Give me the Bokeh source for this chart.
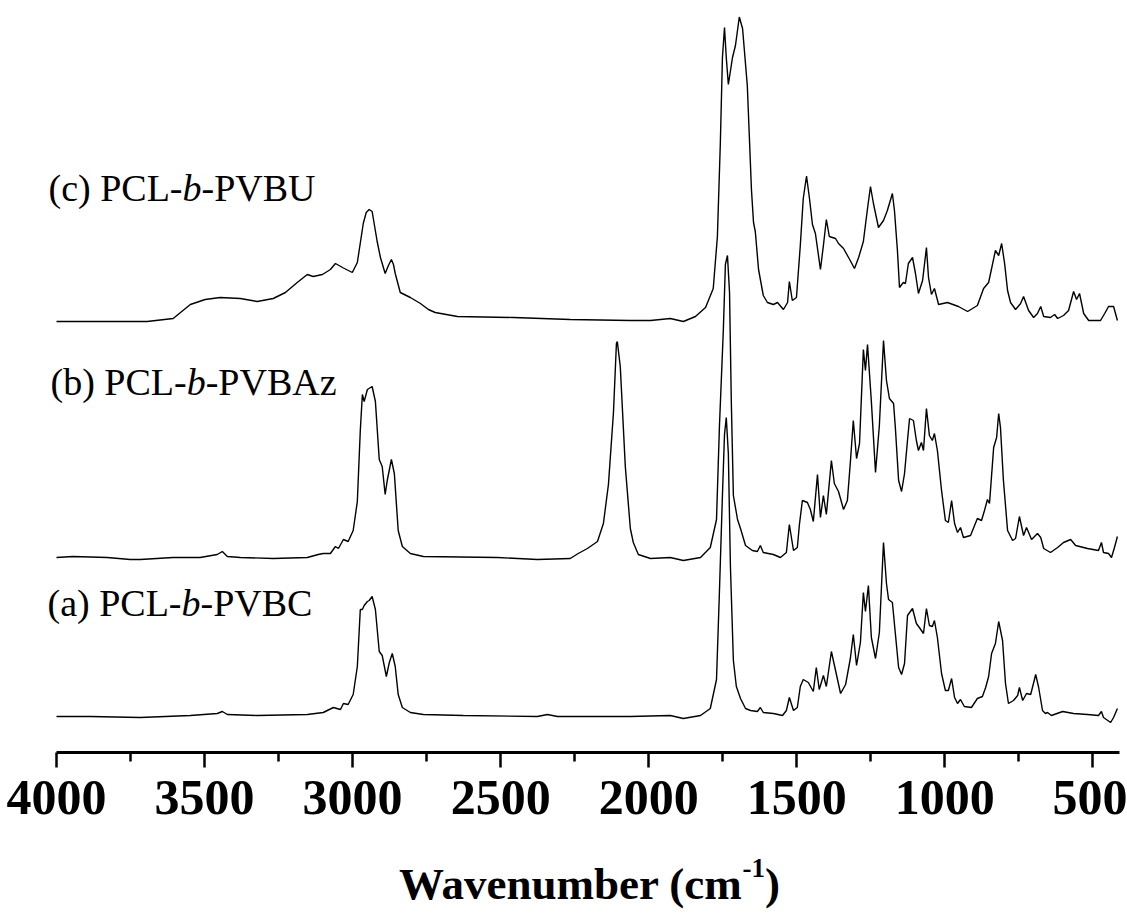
from bokeh.plotting import figure
from bokeh.models import Range1d, FixedTicker, Label, LinearAxis
from bokeh.layouts import column
from bokeh.embed import file_html
from bokeh.resources import INLINE

# ---------------- data ----------------
# (a) PCL-b-PVBC
wn_a = [4000, 3886, 3717, 3548, 3457, 3440, 3423, 3322, 3153, 3099, 3065, 3041, 3031, 3015, 2998, 2984, 2974,
        2967, 2961, 2950, 2944, 2934, 2923, 2910, 2900, 2886, 2876, 2866, 2856, 2846, 2832, 2805, 2761, 2626,
        2376, 2342, 2308, 2062, 1927, 1883, 1825, 1792, 1771, 1761, 1751, 1744, 1738, 1731, 1724, 1714, 1704,
        1690, 1673, 1656, 1633, 1623, 1613, 1579, 1548, 1535, 1525, 1511, 1498, 1488, 1478, 1461, 1444, 1434,
        1424, 1410, 1400, 1383, 1369, 1352, 1335, 1319, 1309, 1298, 1285, 1275, 1268, 1258, 1248, 1234, 1221,
        1207, 1197, 1190, 1177, 1167, 1156, 1146, 1136, 1126, 1109, 1096, 1086, 1072, 1062, 1052, 1042, 1035,
        1025, 1011, 998, 988, 977, 967, 957, 947, 934, 910, 890, 873, 862, 852, 842, 829, 818, 805, 795, 785,
        768, 754, 748, 737, 724, 710, 693, 683, 670, 660, 653, 640, 602, 565, 518, 481, 471, 464, 440, 430, 417]
ab_a = [0.00, 0.00, -0.01, 0.01, 0.03, 0.05, 0.02, 0.01, 0.02, 0.04, 0.09, 0.07, 0.13, 0.12, 0.22, 0.50, 1.07,
        1.07, 1.11, 1.15, 1.16, 1.20, 1.07, 0.65, 0.61, 0.40, 0.54, 0.63, 0.50, 0.22, 0.09, 0.04, 0.02, 0.01,
        0.00, 0.02, 0.00, 0.00, 0.01, -0.02, 0.01, 0.08, 0.37, 1.26, 2.21, 2.82, 2.99, 2.63, 1.50, 0.56, 0.30,
        0.18, 0.08, 0.06, 0.05, 0.09, 0.04, 0.03, 0.01, 0.06, 0.19, 0.06, 0.09, 0.30, 0.37, 0.34, 0.25, 0.49,
        0.27, 0.41, 0.30, 0.65, 0.46, 0.23, 0.32, 0.58, 0.82, 0.51, 0.74, 1.24, 1.05, 1.31, 0.79, 0.58, 0.84,
        1.74, 1.33, 1.17, 1.14, 0.83, 0.49, 0.42, 0.53, 1.01, 1.08, 0.93, 0.89, 0.83, 1.08, 0.91, 0.90, 0.96,
        0.79, 0.43, 0.26, 0.26, 0.38, 0.19, 0.13, 0.17, 0.10, 0.09, 0.18, 0.20, 0.29, 0.40, 0.63, 0.73, 0.95,
        0.76, 0.33, 0.13, 0.16, 0.21, 0.29, 0.16, 0.23, 0.22, 0.42, 0.29, 0.06, 0.03, 0.04, 0.01, 0.05, 0.03,
        0.02, 0.01, 0.05, -0.01, -0.06, -0.01, 0.08]

# (b) PCL-b-PVBAz
wn_b = [4000, 3944, 3829, 3751, 3717, 3606, 3515, 3457, 3440, 3423, 3379, 3268, 3153, 3116, 3099, 3075, 3058,
        3048, 3031, 3015, 2998, 2984, 2974, 2967, 2961, 2950, 2934, 2923, 2910, 2900, 2890, 2883, 2869, 2859,
        2846, 2832, 2805, 2761, 2511, 2376, 2265, 2238, 2207, 2173, 2153, 2136, 2119, 2109, 2106, 2096, 2079,
        2062, 2052, 2035, 1994, 1927, 1883, 1825, 1792, 1771, 1761, 1748, 1741, 1734, 1727, 1721, 1714, 1700,
        1690, 1673, 1650, 1633, 1623, 1613, 1579, 1555, 1535, 1525, 1511, 1498, 1491, 1481, 1464, 1454, 1444,
        1430, 1420, 1410, 1400, 1383, 1373, 1359, 1342, 1329, 1319, 1309, 1298, 1288, 1275, 1268, 1261, 1248,
        1234, 1221, 1207, 1197, 1187, 1173, 1167, 1156, 1146, 1136, 1126, 1119, 1106, 1096, 1089, 1079, 1072,
        1062, 1052, 1042, 1035, 1025, 1011, 998, 988, 977, 967, 957, 947, 937, 913, 890, 876, 866, 856, 849,
        835, 825, 818, 812, 802, 788, 771, 761, 748, 734, 724, 707, 687, 676, 666, 643, 619, 599, 575, 558,
        518, 481, 471, 464, 447, 437, 427, 417]
ab_b = [0.00, 0.01, 0.00, -0.02, -0.02, 0.00, 0.00, 0.03, 0.06, 0.01, 0.00, -0.01, 0.00, 0.03, 0.04, 0.04, 0.11,
        0.09, 0.18, 0.16, 0.27, 0.56, 1.27, 1.63, 1.56, 1.68, 1.71, 1.56, 0.98, 0.91, 0.63, 0.77, 0.98, 0.84,
        0.27, 0.11, 0.04, 0.01, 0.00, -0.02, -0.01, 0.04, 0.09, 0.16, 0.34, 0.73, 1.45, 2.14, 2.16, 1.91, 0.91,
        0.29, 0.15, 0.03, -0.01, 0.00, -0.03, 0.00, 0.10, 0.38, 1.32, 2.27, 2.93, 3.02, 2.65, 1.56, 0.62, 0.38,
        0.29, 0.12, 0.07, 0.06, 0.12, 0.05, 0.03, 0.00, 0.05, 0.33, 0.07, 0.10, 0.33, 0.57, 0.55, 0.48, 0.36,
        0.83, 0.40, 0.62, 0.43, 0.97, 0.74, 0.66, 0.48, 0.57, 0.95, 1.37, 0.99, 1.14, 2.08, 1.87, 2.13, 1.56,
        0.85, 1.32, 2.17, 1.77, 1.59, 1.54, 1.30, 0.77, 0.66, 0.84, 1.17, 1.39, 1.37, 1.17, 1.07, 1.15, 1.07,
        1.49, 1.22, 1.17, 1.24, 1.07, 0.67, 0.37, 0.35, 0.57, 0.34, 0.25, 0.30, 0.20, 0.22, 0.39, 0.37, 0.47,
        0.58, 0.54, 1.10, 1.20, 1.44, 1.30, 0.77, 0.27, 0.17, 0.19, 0.41, 0.22, 0.30, 0.18, 0.24, 0.20, 0.09,
        0.05, 0.10, 0.15, 0.18, 0.12, 0.09, 0.07, 0.15, 0.05, 0.04, 0.00, 0.10, 0.21]

# (c) PCL-b-PVBU
wn_c = [4000, 3872, 3694, 3606, 3548, 3498, 3447, 3379, 3322, 3268, 3227, 3187, 3153, 3133, 3102, 3075, 3058,
        3031, 3001, 2984, 2964, 2954, 2944, 2934, 2917, 2906, 2890, 2879, 2869, 2862, 2856, 2839, 2805, 2771,
        2744, 2721, 2646, 2457, 2265, 2062, 1994, 1927, 1883, 1842, 1808, 1782, 1768, 1758, 1751, 1744, 1738,
        1731, 1717, 1707, 1694, 1683, 1667, 1653, 1646, 1640, 1629, 1613, 1599, 1579, 1565, 1545, 1531, 1525,
        1515, 1501, 1488, 1478, 1467, 1457, 1447, 1437, 1420, 1410, 1400, 1390, 1369, 1359, 1342, 1325, 1305,
        1291, 1275, 1261, 1251, 1241, 1224, 1207, 1194, 1177, 1170, 1160, 1153, 1140, 1133, 1123, 1109, 1099,
        1089, 1075, 1062, 1055, 1045, 1035, 1021, 991, 954, 923, 890, 869, 852, 829, 818, 808, 798, 788, 778,
        761, 744, 734, 717, 700, 687, 676, 666, 643, 629, 619, 599, 582, 565, 555, 545, 531, 514, 474, 460,
        447, 430, 417]
ab_c = [0.00, 0.00, 0.00, 0.03, 0.17, 0.22, 0.24, 0.23, 0.20, 0.23, 0.29, 0.39, 0.47, 0.45, 0.47, 0.52, 0.58,
        0.535, 0.49, 0.59, 0.98, 1.09, 1.12, 1.10, 0.80, 0.64, 0.48, 0.56, 0.62, 0.57, 0.48, 0.29, 0.24, 0.18,
        0.12, 0.09, 0.05, 0.04, 0.02, 0.01, 0.01, 0.03, 0.00, 0.05, 0.14, 0.33, 0.85, 1.79, 2.64, 2.94, 2.64,
        2.37, 2.64, 2.76, 3.045, 2.93, 2.36, 1.32, 0.99, 0.90, 0.52, 0.26, 0.19, 0.17, 0.19, 0.12, 0.19, 0.40,
        0.21, 0.24, 0.76, 1.23, 1.455, 1.23, 0.97, 0.88, 0.52, 0.76, 1.02, 0.85, 0.83, 0.78, 0.73, 0.64, 0.53,
        0.64, 0.80, 1.13, 1.35, 1.18, 0.94, 1.01, 1.11, 1.28, 1.11, 0.71, 0.34, 0.39, 0.38, 0.58, 0.64, 0.48,
        0.28, 0.41, 0.74, 0.44, 0.27, 0.33, 0.17, 0.19, 0.15, 0.10, 0.16, 0.33, 0.39, 0.71, 0.66, 0.78, 0.58,
        0.31, 0.19, 0.12, 0.18, 0.25, 0.11, 0.04, 0.08, 0.15, 0.05, 0.04, 0.07, 0.03, 0.06, 0.11, 0.30, 0.22,
        0.28, 0.08, 0.01, 0.01, 0.08, 0.15, 0.15, 0.01]

series_offsets = [0.36, 1.95, 4.31]
series_wn = [wn_a, wn_b, wn_c]
series_ab = [ab_a, ab_b, ab_c]
label_prefix = ["(a) PCL-", "(b) PCL-", "(c) PCL-"]
label_italic = "b"
label_suffix = ["-PVBC", "-PVBAz", "-PVBU"]

major_ticks = [4000, 3500, 3000, 2500, 2000, 1500, 1000, 500]
minor_ticks = [3750, 3250, 2750, 2250, 1750, 1250, 750]
axis_start, axis_end = 4000, 410

# ---------------- layout (pixels) ----------------
W, H = 1127, 913
H1 = 852                      # main figure height (frame + axis panel)
AX_L, AX_R, FRAME_B = 56, 1119, 752
Y0, Y1 = 0.0, 7.52


def px2x(px):
    return axis_start + (px - AX_L) * (axis_end - axis_start) / (AX_R - AX_L)


def py2y(py):
    return Y0 + (FRAME_B - py) * (Y1 - Y0) / FRAME_B


p = figure(width=W, height=H1, output_backend="svg", toolbar_location=None, title=None,
           x_range=Range1d(px2x(0), px2x(W)), y_range=Range1d(Y0, Y1),
           x_axis_location=None, y_axis_location=None,
           min_border_left=0, min_border_right=0,
           min_border_top=0, min_border_bottom=H1 - FRAME_B)
p.outline_line_color = None
p.xgrid.visible = False
p.ygrid.visible = False
p.background_fill_color = "white"
p.border_fill_color = "white"

xaxis = LinearAxis(ticker=FixedTicker(ticks=major_ticks, minor_ticks=minor_ticks),
                   bounds=(axis_end, axis_start))
xaxis.axis_line_width = 3
xaxis.axis_line_color = "black"
xaxis.major_tick_line_width = 2.5
xaxis.minor_tick_line_width = 2.5
xaxis.major_tick_out = 15
xaxis.major_tick_in = 0
xaxis.minor_tick_out = 9
xaxis.minor_tick_in = 0
xaxis.major_label_text_font = "Liberation Serif"
xaxis.major_label_text_font_style = "bold"
xaxis.major_label_text_font_size = "50px"
xaxis.major_label_text_color = "black"
xaxis.major_label_standoff = 13
p.add_layout(xaxis, "below")

for wn, ab, off in zip(series_wn, series_ab, series_offsets):
    p.line(wn, [v + off for v in ab], line_color="black", line_width=1.4)

# series labels: (left px, vertical centre py)
label_pos = [(47, 602), (50, 381), (48, 187)]
FS = 38
w_prefix = [3.527, 3.583, 3.527]
for i in range(3):
    lx, ly = label_pos[i]
    x1 = lx + w_prefix[i] * FS
    x2 = x1 + 0.5 * FS
    for txt, xx, style in [(label_prefix[i], lx, "normal"), (label_italic, x1, "italic"),
                           (label_suffix[i], x2, "normal")]:
        p.add_layout(Label(x=px2x(xx), y=py2y(ly), text=txt, text_font="Liberation Serif",
                           text_font_size=f"{FS}px", text_font_style=style, text_color="black",
                           text_baseline="middle", text_align="left"))

# ---------------- axis title strip (own figure, below the axis) ----------------
p2 = figure(width=W, height=H - H1, output_backend="svg", toolbar_location=None, title=None,
            x_range=Range1d(0, W), y_range=Range1d(H, H1),
            x_axis_location=None, y_axis_location=None,
            min_border_left=0, min_border_right=0, min_border_top=0, min_border_bottom=0)
p2.outline_line_color = None
p2.xgrid.visible = False
p2.ygrid.visible = False
p2.background_fill_color = "white"
p2.border_fill_color = "white"

TF = 45
SF = 27
w_main = 7.637 * TF
w_sup = 0.833 * SF
w_par = 0.333 * TF
tx = 589 - (w_main + w_sup + w_par) / 2
for txt, xx, yy, fs in [("Wavenumber (cm", tx, 883, TF), ("-1", tx + w_main, 867, SF),
                        (")", tx + w_main + w_sup, 883, TF)]:
    p2.add_layout(Label(x=xx, y=yy, text=txt, text_font="Liberation Serif",
                        text_font_size=f"{fs}px", text_font_style="bold", text_color="black",
                        text_baseline="middle", text_align="left"))

layout = column(p, p2, spacing=0)
open("out.html", "w").write(file_html(layout, INLINE))
